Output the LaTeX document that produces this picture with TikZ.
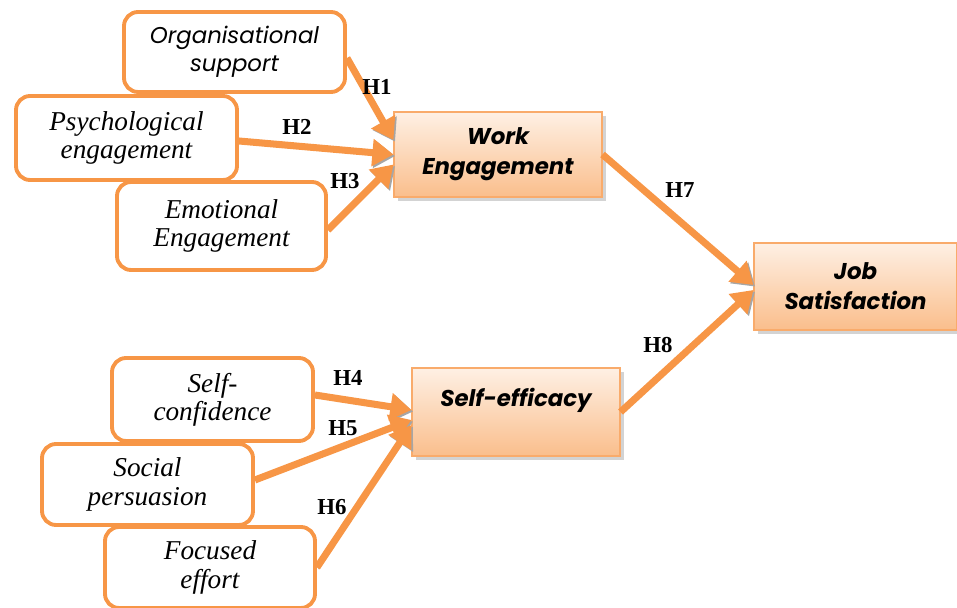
\documentclass[tikz,border=0pt]{standalone}
\usepackage{fontspec}
\setmainfont{Liberation Serif}
\newfontfamily\gothic{Poppins}
\usetikzlibrary{arrows.meta,shadows}
\definecolor{hyporange}{RGB}{247,150,70}
\definecolor{peachtop}{RGB}{254,240,228}
\definecolor{peachbot}{RGB}{250,190,140}
\newcommand{\hyp}[2]{\node[font=\bfseries\fontsize{13}{13}\selectfont] (h#2) at (#1) {H#2};}
\tikzset{
  facet/.style={draw=hyporange, line width=2.2pt, rounded corners=8pt, fill=white, inner sep=0pt,
    align=center, font=\itshape\fontsize{15.5}{16}\selectfont},
  latent/.style={draw=hyporange!80, line width=0.6pt, top color=peachtop, bottom color=peachbot, inner sep=0pt,
    align=center, drop shadow={shadow xshift=2pt, shadow yshift=-2pt, opacity=0.35},
    font=\gothic\bfseries\itshape\fontsize{13}{17}\selectfont},
  link/.style={line width=4pt, draw=hyporange, -{Triangle[length=12pt,width=15pt]},
    preaction={draw=black!35, transform canvas={shift={(0.9pt,-0.9pt)}}}}
}
\begin{document}
\begin{tikzpicture}
                \useasboundingbox (0,0) rectangle (19.14,12.16);

                \node[facet, minimum width=4.42cm, minimum height=1.6cm, font=\gothic\itshape\fontsize{13}{16}\selectfont] (org) at (4.69,11.12) {Organisational\\support};
                \node[facet, minimum width=4.42cm, minimum height=1.68cm] (psy) at (2.53,9.4) {Psychological\\engagement};
                \node[facet, minimum width=4.18cm, minimum height=1.76cm] (emo) at (4.43,7.64) {Emotional\\Engagement};

                \node[facet, minimum width=4.02cm, minimum height=1.66cm] (conf) at (4.25,4.17) {Self-\\confidence};
                \node[facet, minimum width=4.22cm, minimum height=1.62cm] (soc) at (2.95,2.47) {Social\\persuasion};
                \node[facet, minimum width=4.2cm, minimum height=1.62cm] (foc) at (4.2,0.81) {Focused\\effort};

                \node[latent, minimum width=4.16cm, minimum height=1.7cm] (work) at (9.96,9.07) {Work\\Engagement};
                \node[latent, minimum width=4.16cm, minimum height=1.76cm] (eff) at (10.32,3.92) {Self-efficacy\\\mbox{}};
                \node[latent, minimum width=4.06cm, minimum height=1.74cm] (job) at (17.11,6.43) {Job\\Satisfaction};

                \draw[link] ([yshift=-0.12cm]org.east) -- ([yshift=0.29cm]work.west);
                \draw[link] ([yshift=-0.06cm]psy.east) -- (work.west);
                \draw[link] ([yshift=-0.08cm]emo.east) -- ([yshift=-0.2cm]work.west);

                \draw[link] ([yshift=0.09cm]conf.east) -- ([yshift=0.04cm]eff.west);
                \draw[link] ([yshift=0.09cm]soc.east) -- ([yshift=-0.16cm]eff.west);
                \draw[link] (foc.east) -- ([yshift=-0.26cm]eff.west);

                \draw[link] (work.east) -- ([yshift=0.03cm]job.west);
                \draw[link] (eff.east) -- ([yshift=-0.07cm]job.west);

                \hyp{7.54,10.42}{1}
                \hyp{5.94,9.62}{2}
                \hyp{6.9,8.54}{3}
                \hyp{6.96,4.6}{4}
                \hyp{6.86,3.6}{5}
                \hyp{6.64,2.02}{6}
                \hyp{13.6,8.36}{7}
                \hyp{13.16,5.26}{8}
            \end{tikzpicture}
\end{document}
